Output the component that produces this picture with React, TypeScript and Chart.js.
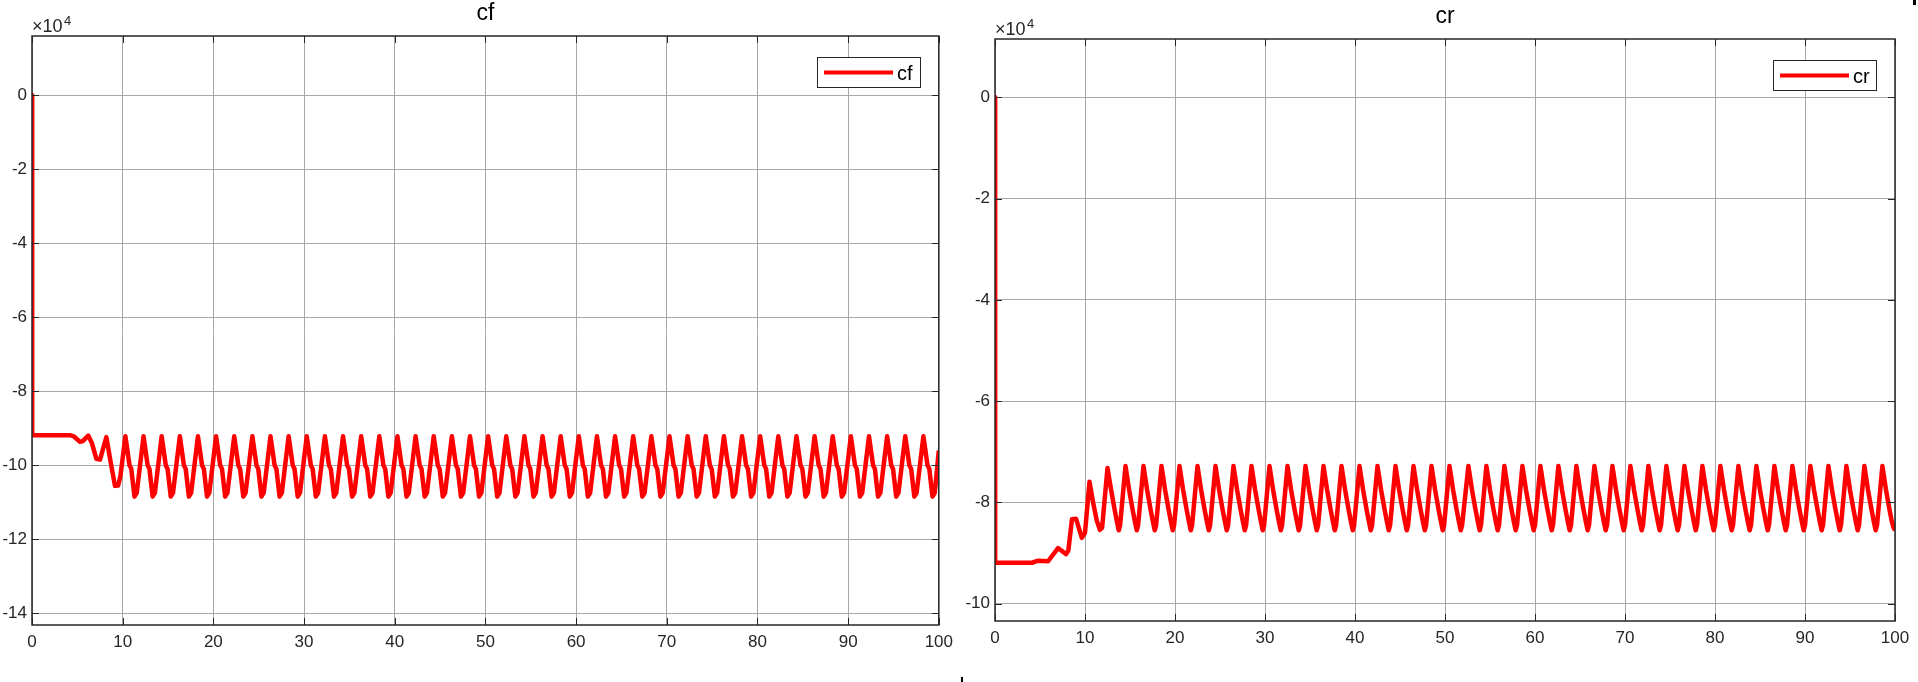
import { useEffect, useRef } from "react";
import { Chart, registerables } from "chart.js";

Chart.register(...registerables);

// values are in units of 10^4 (axis exponent label "×10^4")
const xTicks = [0, 10, 20, 30, 40, 50, 60, 70, 80, 90, 100];
const cfYTicks = [-14, -12, -10, -8, -6, -4, -2, 0];
const crYTicks = [-10, -8, -6, -4, -2, 0];

const cfTime = [
  0, 0.02, 4.2, 4.6, 5.3, 5.6, 6.2, 6.6, 7.1, 7.5, 8.2, 8.7, 9.15, 9.5, 9.75,
  10.3, 10.75, 10.95, 11.3, 11.55,
  12.3, 12.75, 12.95, 13.3, 13.55,
  14.3, 14.75, 14.95, 15.3, 15.55,
  16.3, 16.75, 16.95, 17.3, 17.55,
  18.3, 18.75, 18.95, 19.3, 19.55,
  20.3, 20.75, 20.95, 21.3, 21.55,
  22.3, 22.75, 22.95, 23.3, 23.55,
  24.3, 24.75, 24.95, 25.3, 25.55,
  26.3, 26.75, 26.95, 27.3, 27.55,
  28.3, 28.75, 28.95, 29.3, 29.55,
  30.3, 30.75, 30.95, 31.3, 31.55,
  32.3, 32.75, 32.95, 33.3, 33.55,
  34.3, 34.75, 34.95, 35.3, 35.55,
  36.3, 36.75, 36.95, 37.3, 37.55,
  38.3, 38.75, 38.95, 39.3, 39.55,
  40.3, 40.75, 40.95, 41.3, 41.55,
  42.3, 42.75, 42.95, 43.3, 43.55,
  44.3, 44.75, 44.95, 45.3, 45.55,
  46.3, 46.75, 46.95, 47.3, 47.55,
  48.3, 48.75, 48.95, 49.3, 49.55,
  50.3, 50.75, 50.95, 51.3, 51.55,
  52.3, 52.75, 52.95, 53.3, 53.55,
  54.3, 54.75, 54.95, 55.3, 55.55,
  56.3, 56.75, 56.95, 57.3, 57.55,
  58.3, 58.75, 58.95, 59.3, 59.55,
  60.3, 60.75, 60.95, 61.3, 61.55,
  62.3, 62.75, 62.95, 63.3, 63.55,
  64.3, 64.75, 64.95, 65.3, 65.55,
  66.3, 66.75, 66.95, 67.3, 67.55,
  68.3, 68.75, 68.95, 69.3, 69.55,
  70.3, 70.75, 70.95, 71.3, 71.55,
  72.3, 72.75, 72.95, 73.3, 73.55,
  74.3, 74.75, 74.95, 75.3, 75.55,
  76.3, 76.75, 76.95, 77.3, 77.55,
  78.3, 78.75, 78.95, 79.3, 79.55,
  80.3, 80.75, 80.95, 81.3, 81.55,
  82.3, 82.75, 82.95, 83.3, 83.55,
  84.3, 84.75, 84.95, 85.3, 85.55,
  86.3, 86.75, 86.95, 87.3, 87.55,
  88.3, 88.75, 88.95, 89.3, 89.55,
  90.3, 90.75, 90.95, 91.3, 91.55,
  92.3, 92.75, 92.95, 93.3, 93.55,
  94.3, 94.75, 94.95, 95.3, 95.55,
  96.3, 96.75, 96.95, 97.3, 97.55,
  98.3, 98.75, 98.95, 99.3, 99.55,
  100,
];

const cfValue = [
  0, -9.19, -9.19, -9.22, -9.37, -9.35, -9.2, -9.4, -9.83, -9.85, -9.24, -9.95, -10.56, -10.55, -10.3,
  -9.22, -10.0, -10.1, -10.85, -10.75,
  -9.22, -10.0, -10.1, -10.85, -10.75,
  -9.22, -10.0, -10.1, -10.85, -10.75,
  -9.22, -10.0, -10.1, -10.85, -10.75,
  -9.22, -10.0, -10.1, -10.85, -10.75,
  -9.22, -10.0, -10.1, -10.85, -10.75,
  -9.22, -10.0, -10.1, -10.85, -10.75,
  -9.22, -10.0, -10.1, -10.85, -10.75,
  -9.22, -10.0, -10.1, -10.85, -10.75,
  -9.22, -10.0, -10.1, -10.85, -10.75,
  -9.22, -10.0, -10.1, -10.85, -10.75,
  -9.22, -10.0, -10.1, -10.85, -10.75,
  -9.22, -10.0, -10.1, -10.85, -10.75,
  -9.22, -10.0, -10.1, -10.85, -10.75,
  -9.22, -10.0, -10.1, -10.85, -10.75,
  -9.22, -10.0, -10.1, -10.85, -10.75,
  -9.22, -10.0, -10.1, -10.85, -10.75,
  -9.22, -10.0, -10.1, -10.85, -10.75,
  -9.22, -10.0, -10.1, -10.85, -10.75,
  -9.22, -10.0, -10.1, -10.85, -10.75,
  -9.22, -10.0, -10.1, -10.85, -10.75,
  -9.22, -10.0, -10.1, -10.85, -10.75,
  -9.22, -10.0, -10.1, -10.85, -10.75,
  -9.22, -10.0, -10.1, -10.85, -10.75,
  -9.22, -10.0, -10.1, -10.85, -10.75,
  -9.22, -10.0, -10.1, -10.85, -10.75,
  -9.22, -10.0, -10.1, -10.85, -10.75,
  -9.22, -10.0, -10.1, -10.85, -10.75,
  -9.22, -10.0, -10.1, -10.85, -10.75,
  -9.22, -10.0, -10.1, -10.85, -10.75,
  -9.22, -10.0, -10.1, -10.85, -10.75,
  -9.22, -10.0, -10.1, -10.85, -10.75,
  -9.22, -10.0, -10.1, -10.85, -10.75,
  -9.22, -10.0, -10.1, -10.85, -10.75,
  -9.22, -10.0, -10.1, -10.85, -10.75,
  -9.22, -10.0, -10.1, -10.85, -10.75,
  -9.22, -10.0, -10.1, -10.85, -10.75,
  -9.22, -10.0, -10.1, -10.85, -10.75,
  -9.22, -10.0, -10.1, -10.85, -10.75,
  -9.22, -10.0, -10.1, -10.85, -10.75,
  -9.22, -10.0, -10.1, -10.85, -10.75,
  -9.22, -10.0, -10.1, -10.85, -10.75,
  -9.22, -10.0, -10.1, -10.85, -10.75,
  -9.22, -10.0, -10.1, -10.85, -10.75,
  -9.22, -10.0, -10.1, -10.85, -10.75,
  -9.6,
];

const crTime = [
  0, 0.02, 4.1, 4.8, 5.9, 7.0, 7.9, 8.15, 8.55, 9.0, 9.65, 10.0, 10.5, 10.9, 11.3, 11.65, 11.9,
  12.5, 12.9, 13.3, 13.55, 13.75, 13.9,
  14.5, 14.9, 15.3, 15.55, 15.75, 15.9,
  16.5, 16.9, 17.3, 17.55, 17.75, 17.9,
  18.5, 18.9, 19.3, 19.55, 19.75, 19.9,
  20.5, 20.9, 21.3, 21.55, 21.75, 21.9,
  22.5, 22.9, 23.3, 23.55, 23.75, 23.9,
  24.5, 24.9, 25.3, 25.55, 25.75, 25.9,
  26.5, 26.9, 27.3, 27.55, 27.75, 27.9,
  28.5, 28.9, 29.3, 29.55, 29.75, 29.9,
  30.5, 30.9, 31.3, 31.55, 31.75, 31.9,
  32.5, 32.9, 33.3, 33.55, 33.75, 33.9,
  34.5, 34.9, 35.3, 35.55, 35.75, 35.9,
  36.5, 36.9, 37.3, 37.55, 37.75, 37.9,
  38.5, 38.9, 39.3, 39.55, 39.75, 39.9,
  40.5, 40.9, 41.3, 41.55, 41.75, 41.9,
  42.5, 42.9, 43.3, 43.55, 43.75, 43.9,
  44.5, 44.9, 45.3, 45.55, 45.75, 45.9,
  46.5, 46.9, 47.3, 47.55, 47.75, 47.9,
  48.5, 48.9, 49.3, 49.55, 49.75, 49.9,
  50.5, 50.9, 51.3, 51.55, 51.75, 51.9,
  52.6, 53.0, 53.4, 53.65, 53.85, 54.0,
  54.6, 55.0, 55.4, 55.65, 55.85, 56.0,
  56.6, 57.0, 57.4, 57.65, 57.85, 58.0,
  58.6, 59.0, 59.4, 59.65, 59.85, 60.0,
  60.6, 61.0, 61.4, 61.65, 61.85, 62.0,
  62.6, 63.0, 63.4, 63.65, 63.85, 64.0,
  64.6, 65.0, 65.4, 65.65, 65.85, 66.0,
  66.6, 67.0, 67.4, 67.65, 67.85, 68.0,
  68.6, 69.0, 69.4, 69.65, 69.85, 70.0,
  70.6, 71.0, 71.4, 71.65, 71.85, 72.0,
  72.6, 73.0, 73.4, 73.65, 73.85, 74.0,
  74.6, 75.0, 75.4, 75.65, 75.85, 76.0,
  76.6, 77.0, 77.4, 77.65, 77.85, 78.0,
  78.6, 79.0, 79.4, 79.65, 79.85, 80.0,
  80.6, 81.0, 81.4, 81.65, 81.85, 82.0,
  82.6, 83.0, 83.4, 83.65, 83.85, 84.0,
  84.6, 85.0, 85.4, 85.65, 85.85, 86.0,
  86.6, 87.0, 87.4, 87.65, 87.85, 88.0,
  88.6, 89.0, 89.4, 89.65, 89.85, 90.0,
  90.6, 91.0, 91.4, 91.65, 91.85, 92.0,
  92.6, 93.0, 93.4, 93.65, 93.85, 94.0,
  94.6, 95.0, 95.4, 95.65, 95.85, 96.0,
  96.6, 97.0, 97.4, 97.65, 97.85, 98.0,
  98.6, 99.0, 99.4, 99.65, 99.85, 100.0,
];

const crValue = [
  0, -9.19, -9.19, -9.15, -9.16, -8.9, -9.02, -8.95, -8.33, -8.32, -8.7, -8.6, -7.59, -8.0, -8.35, -8.54, -8.5,
  -7.32, -7.75, -8.15, -8.38, -8.55, -8.45,
  -7.28, -7.75, -8.15, -8.38, -8.55, -8.45,
  -7.28, -7.75, -8.15, -8.38, -8.55, -8.45,
  -7.28, -7.75, -8.15, -8.38, -8.55, -8.45,
  -7.28, -7.75, -8.15, -8.38, -8.55, -8.45,
  -7.28, -7.75, -8.15, -8.38, -8.55, -8.45,
  -7.28, -7.75, -8.15, -8.38, -8.55, -8.45,
  -7.28, -7.75, -8.15, -8.38, -8.55, -8.45,
  -7.28, -7.75, -8.15, -8.38, -8.55, -8.45,
  -7.28, -7.75, -8.15, -8.38, -8.55, -8.45,
  -7.28, -7.75, -8.15, -8.38, -8.55, -8.45,
  -7.28, -7.75, -8.15, -8.38, -8.55, -8.45,
  -7.28, -7.75, -8.15, -8.38, -8.55, -8.45,
  -7.28, -7.75, -8.15, -8.38, -8.55, -8.45,
  -7.28, -7.75, -8.15, -8.38, -8.55, -8.45,
  -7.28, -7.75, -8.15, -8.38, -8.55, -8.45,
  -7.28, -7.75, -8.15, -8.38, -8.55, -8.45,
  -7.28, -7.75, -8.15, -8.38, -8.55, -8.45,
  -7.28, -7.75, -8.15, -8.38, -8.55, -8.45,
  -7.28, -7.75, -8.15, -8.38, -8.55, -8.45,
  -7.28, -7.75, -8.15, -8.38, -8.55, -8.45,
  -7.28, -7.75, -8.15, -8.38, -8.55, -8.45,
  -7.28, -7.75, -8.15, -8.38, -8.55, -8.45,
  -7.28, -7.75, -8.15, -8.38, -8.55, -8.45,
  -7.28, -7.75, -8.15, -8.38, -8.55, -8.45,
  -7.28, -7.75, -8.15, -8.38, -8.55, -8.45,
  -7.28, -7.75, -8.15, -8.38, -8.55, -8.45,
  -7.28, -7.75, -8.15, -8.38, -8.55, -8.45,
  -7.28, -7.75, -8.15, -8.38, -8.55, -8.45,
  -7.28, -7.75, -8.15, -8.38, -8.55, -8.45,
  -7.28, -7.75, -8.15, -8.38, -8.55, -8.45,
  -7.28, -7.75, -8.15, -8.38, -8.55, -8.45,
  -7.28, -7.75, -8.15, -8.38, -8.55, -8.45,
  -7.28, -7.75, -8.15, -8.38, -8.55, -8.45,
  -7.28, -7.75, -8.15, -8.38, -8.55, -8.45,
  -7.28, -7.75, -8.15, -8.38, -8.55, -8.45,
  -7.28, -7.75, -8.15, -8.38, -8.55, -8.45,
  -7.28, -7.75, -8.15, -8.38, -8.55, -8.45,
  -7.28, -7.75, -8.15, -8.38, -8.55, -8.45,
  -7.28, -7.75, -8.15, -8.38, -8.55, -8.45,
  -7.28, -7.75, -8.15, -8.38, -8.55, -8.45,
  -7.28, -7.75, -8.15, -8.38, -8.55, -8.45,
  -7.28, -7.75, -8.15, -8.38, -8.55, -8.45,
  -7.28, -7.75, -8.15, -8.38, -8.5, -8.55,
];

const FONT = '"Liberation Sans", Arial, Helvetica, sans-serif';
const AXIS = "#262626";
const GRID = "#a8a8a8";
const RED = "#ff0000";

function framePlugin(title: string, label: string) {
  return {
    id: "matlabFrame",
    afterDraw(chart: any) {
      const { ctx, chartArea: a, scales } = chart;
      const xs = scales.x;
      const ys = scales.y;
      ctx.save();
      // inward tick marks
      ctx.strokeStyle = AXIS;
      ctx.lineWidth = 1;
      const tl = 7;
      ctx.beginPath();
      xs.ticks.forEach((t: any) => {
        const px = Math.round(xs.getPixelForValue(t.value)) + 0.5;
        ctx.moveTo(px, a.bottom);
        ctx.lineTo(px, a.bottom - tl);
        ctx.moveTo(px, a.top);
        ctx.lineTo(px, a.top + tl);
      });
      ys.ticks.forEach((t: any) => {
        const py = Math.round(ys.getPixelForValue(t.value)) + 0.5;
        ctx.moveTo(a.left, py);
        ctx.lineTo(a.left + tl, py);
        ctx.moveTo(a.right, py);
        ctx.lineTo(a.right - tl, py);
      });
      ctx.stroke();
      // box
      ctx.lineWidth = 1.5;
      ctx.strokeRect(a.left, a.top, a.right - a.left, a.bottom - a.top);
      // title
      ctx.fillStyle = "#000";
      ctx.font = `23px ${FONT}`;
      ctx.textAlign = "center";
      ctx.textBaseline = "alphabetic";
      ctx.fillText(title, (a.left + a.right) / 2, a.top - 16);
      // exponent label
      ctx.textAlign = "left";
      ctx.fillStyle = AXIS;
      ctx.font = `18px ${FONT}`;
      ctx.fillText("\u00d710", a.left, a.top - 4);
      const w = ctx.measureText("\u00d710").width;
      ctx.font = `13px ${FONT}`;
      ctx.fillText("4", a.left + w + 1.5, a.top - 11);
      // legend
      const bw = 103;
      const bh = 30;
      const bx = Math.round(a.right - 19 - bw);
      const by = Math.round(a.top + 21);
      ctx.fillStyle = "#fff";
      ctx.fillRect(bx, by, bw, bh);
      ctx.lineWidth = 1;
      ctx.strokeStyle = AXIS;
      ctx.strokeRect(bx + 0.5, by + 0.5, bw, bh);
      ctx.strokeStyle = RED;
      ctx.lineWidth = 4;
      ctx.beginPath();
      ctx.moveTo(bx + 7, by + 15.5);
      ctx.lineTo(bx + 76, by + 15.5);
      ctx.stroke();
      ctx.fillStyle = "#000";
      ctx.font = `20px ${FONT}`;
      ctx.fillText(label, bx + 80, by + 23);
      ctx.restore();
    },
  };
}

type PanelProps = {
  time: number[];
  values: number[];
  yMin: number;
  yMax: number;
  yTicks: number[];
  title: string;
  label: string;
  width: number;
  height: number;
  padTop: number;
  padRight: number;
  yAxisWidth: number;
  xAxisHeight: number;
};

function Panel(p: PanelProps) {
  const ref = useRef<HTMLCanvasElement>(null);
  useEffect(() => {
    const points = p.time.map((t, i) => ({ x: t, y: p.values[i] }));
    const tickFont = { family: FONT, size: 17 };
    const chart = new Chart(ref.current as HTMLCanvasElement, {
      type: "line",
      data: {
        datasets: [
          {
            label: p.label,
            data: points,
            borderColor: RED,
            backgroundColor: RED,
            borderWidth: 4.5,
            borderJoinStyle: "round",
            pointRadius: 0,
            tension: 0,
            fill: false,
          },
        ],
      },
      options: {
        responsive: false,
        maintainAspectRatio: false,
        animation: false,
        parsing: false,
        normalized: true,
        layout: { padding: { top: p.padTop, right: p.padRight, left: 0, bottom: 0 } },
        plugins: {
          legend: { display: false },
          tooltip: { enabled: false },
          title: { display: false },
        },
        scales: {
          x: {
            type: "linear",
            min: 0,
            max: 100,
            afterBuildTicks: (s: any) => {
              s.ticks = xTicks.map((v) => ({ value: v }));
            },
            afterFit: (s: any) => {
              s.height = p.xAxisHeight;
            },
            ticks: {
              font: tickFont,
              color: AXIS,
              padding: 7,
              maxRotation: 0,
              autoSkip: false,
              callback: (v: any) => String(v),
            },
            grid: { color: GRID, lineWidth: 1, drawTicks: false },
            border: { display: false },
          },
          y: {
            type: "linear",
            min: p.yMin,
            max: p.yMax,
            afterBuildTicks: (s: any) => {
              s.ticks = p.yTicks.map((v) => ({ value: v }));
            },
            afterFit: (s: any) => {
              s.width = p.yAxisWidth;
            },
            ticks: {
              font: tickFont,
              color: AXIS,
              padding: 5,
              autoSkip: false,
              callback: (v: any) => String(v),
            },
            grid: { color: GRID, lineWidth: 1, drawTicks: false },
            border: { display: false },
          },
        },
      } as any,
      plugins: [framePlugin(p.title, p.label)],
    });
    return () => chart.destroy();
  }, []);
  return (
    <canvas
      ref={ref}
      width={p.width}
      height={p.height}
      style={{ display: "block", width: p.width, height: p.height }}
    />
  );
}

export default function App() {
  return (
    <div
      style={{
        position: "fixed",
        left: 0,
        top: 0,
        width: 1918,
        height: 682,
        background: "#fff",
        overflow: "hidden",
      }}
    >
      <div style={{ position: "absolute", left: 0, top: 0 }}>
        <Panel
          time={cfTime}
          values={cfValue}
          yMin={-14.32}
          yMax={1.6}
          yTicks={cfYTicks}
          title="cf"
          label="cf"
          width={960}
          height={682}
          padTop={36}
          padRight={18}
          yAxisWidth={32}
          xAxisHeight={57}
        />
      </div>
      <div style={{ position: "absolute", left: 960, top: 0 }}>
        <Panel
          time={crTime}
          values={crValue}
          yMin={-10.34}
          yMax={1.15}
          yTicks={crYTicks}
          title="cr"
          label="cr"
          width={958}
          height={682}
          padTop={39}
          padRight={23}
          yAxisWidth={35}
          xAxisHeight={61}
        />
      </div>
      <div style={{ position: "absolute", left: 1913, top: 0, width: 3, height: 5, background: "#000" }} />
      <div style={{ position: "absolute", left: 961, top: 677, width: 2, height: 5, background: "#000" }} />
    </div>
  );
}
